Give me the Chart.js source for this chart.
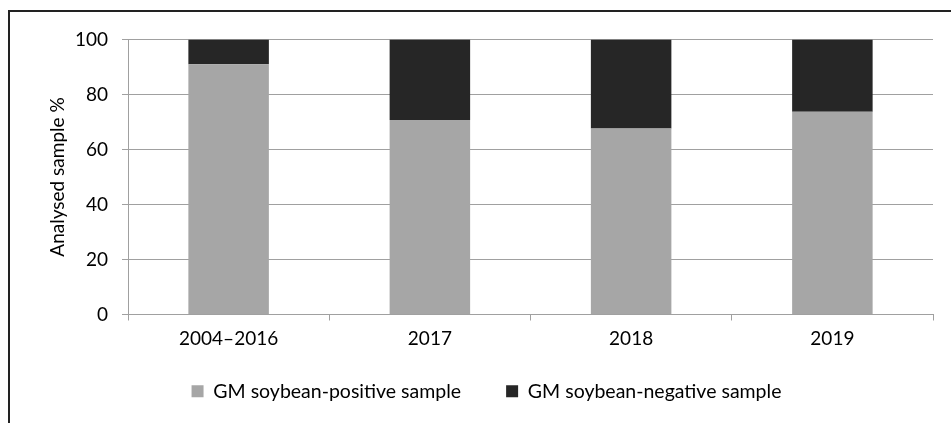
<!DOCTYPE html>
<html>
<head>
<meta charset="utf-8">
<script src="https://cdn.jsdelivr.net/npm/chart.js@4"></script>
<style>
html,body{margin:0;padding:0;background:#fff;}
canvas{display:block;}
</style>
</head>
<body>
<canvas id="c" width="951" height="423"></canvas>
<script>
const categories = ['2004–2016', '2017', '2018', '2019'];
const positiveValues = [91, 70.7, 67.6, 73.7];
const negativeValues = [9, 29.3, 32.4, 26.3];
const yTicks = [0, 20, 40, 60, 80, 100];

const FONT = 'Lato, "Open Sans", sans-serif';
const gridColor = '#a0a0a0';

const frame = {
  id: 'frame',
  afterLayout(chart) {
    // let the x tick labels extend below the (short) x scale box without clipping
    chart.scales.x.bottom = chart.height;
  },
  afterDraw(chart) {
    const ctx = chart.ctx;
    ctx.save();
    ctx.fillStyle = '#222';
    ctx.fillRect(8, 10, 2, 413);
    ctx.fillRect(8, 10, 943, 2);
    ctx.restore();
  }
};

new Chart(document.getElementById('c'), {
  type: 'bar',
  data: {
    labels: categories,
    datasets: [
      { label: 'GM soybean-positive sample', data: positiveValues, backgroundColor: '#a6a6a6', borderWidth: 0 },
      { label: 'GM soybean-negative sample', data: negativeValues, backgroundColor: '#262626', borderWidth: 0 }
    ]
  },
  options: {
    responsive: false,
    animation: false,
    devicePixelRatio: 1,
    layout: { padding: { left: 40, top: 39.5, right: 18, bottom: 12 } },
    datasets: { bar: { barPercentage: 0.4, categoryPercentage: 1 } },
    plugins: {
      tooltip: { enabled: false },
      legend: {
        position: 'bottom',
        labels: {
          boxWidth: 12, boxHeight: 12, padding: 45,
          color: '#000',
          font: { family: FONT, size: 19.5 }
        }
      }
    },
    scales: {
      x: {
        stacked: true,
        afterFit(s) { s.height = 22; },
        grid: { display: true, drawOnChartArea: false, drawTicks: true, tickLength: 6, color: gridColor, offset: true },
        border: { display: true, color: gridColor },
        ticks: { color: '#000', padding: 7, font: { family: FONT, size: 19 }, maxRotation: 0 }
      },
      y: {
        stacked: true,
        min: 0, max: 100,
        afterFit(s) { s.width = 88; },
        afterBuildTicks(s) { s.ticks = yTicks.map(v => ({ value: v })); },
        grid: { color: gridColor, drawTicks: true, tickLength: 6 },
        border: { display: true, color: gridColor },
        ticks: { color: '#000', padding: 14, font: { family: FONT, size: 19 } },
        title: { display: true, text: 'Analysed sample %', color: '#000', font: { family: FONT, size: 19 }, padding: { top: 6, bottom: 0 } }
      }
    }
  },
  plugins: [frame]
});
</script>
</body>
</html>
